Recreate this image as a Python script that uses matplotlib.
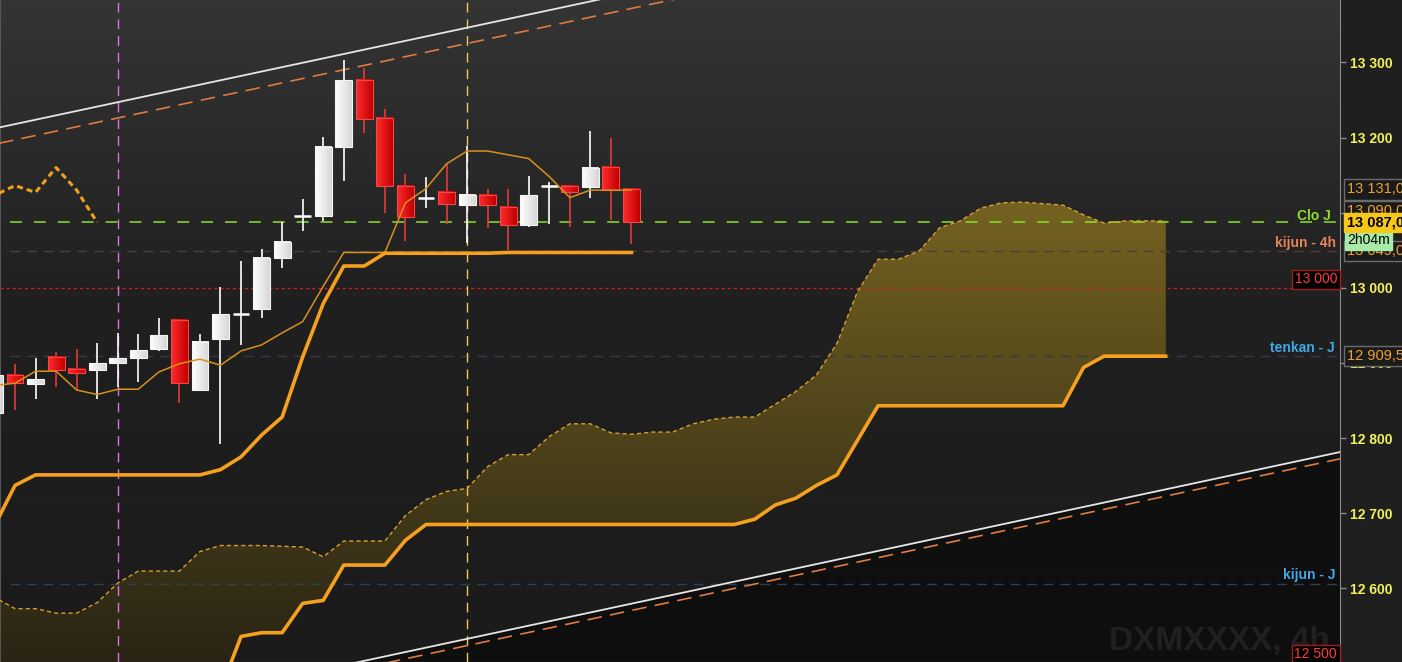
import numpy as np
import matplotlib
matplotlib.use("Agg")
import matplotlib.pyplot as plt
import matplotlib.transforms as mtransforms
from matplotlib.patches import Rectangle, PathPatch

plt.rcParams['font.family'] = ['Liberation Sans', 'DejaVu Sans']
plt.rcParams['lines.scale_dashes'] = False

# 4h candles, index -1 is the one cut by the left edge
bar_idx = np.arange(-1, 31)
opens  = [12834, 12884, 12872, 12908, 12892, 12891, 12900, 12907, 12919, 12957, 12864,
          12932, 12965, 12972, 13039, 13095, 13095, 13187, 13277, 13226, 13136, 13120,
          13128, 13110, 13124, 13108, 13084, 13136, 13136, 13134, 13161, 13131]
highs  = [12890, 12899, 12907, 12915, 12919, 12926, 12940, 12938, 12960, 12958, 12938,
          13001, 13036, 13052, 13087, 13118, 13201, 13303, 13292, 13238, 13152, 13147,
          13165, 13189, 13132, 13132, 13149, 13141, 13137, 13208, 13200, 13131]
lows   = [12830, 12837, 12852, 12868, 12864, 12852, 12868, 12874, 12916, 12847, 12862,
          12792, 12924, 12960, 13027, 13075, 13089, 13142, 13206, 13100, 13062, 13106,
          13085, 13060, 13080, 13050, 13081, 13085, 13081, 13120, 13090, 13058]
closes = [12884, 12873, 12878, 12890, 12886, 12900, 12906, 12917, 12937, 12873, 12928,
          12965, 12965, 13040, 13061, 13095, 13188, 13276, 13225, 13135, 13094, 13120,
          13111, 13124, 13110, 13084, 13123, 13136, 13127, 13160, 13130, 13087]

tenkan_4h = [12870, 12873, 12889, 12889, 12864, 12858, 12865, 12865, 12888, 12899, 12905,
             12897, 12916, 12924, 12940, 12955, 13002, 13047, 13047, 13047, 13113, 13132,
             13165, 13182, 13182, 13177, 13172, 13148, 13120, 13130, 13130, 13130]
kijun_4h = [12683, 12737, 12751, 12751, 12751, 12751, 12751, 12751, 12751, 12751, 12751,
            12758, 12775, 12804, 12828, 12908, 12979, 13029, 13029, 13046, 13046, 13046,
            13046, 13046, 13046, 13047, 13047, 13047, 13047, 13047, 13047, 13047]

# ichimoku cloud, projected 26 bars ahead
cloud_idx = np.arange(-1, 57)
senkou_a = [12588, 12573, 12573, 12567, 12567, 12581, 12607, 12623, 12623, 12623, 12649,
            12657, 12657, 12657, 12656, 12655, 12642, 12663, 12663, 12663, 12697, 12718,
            12729, 12733, 12762, 12778, 12778, 12802, 12819, 12819, 12807, 12805, 12808,
            12808, 12819, 12825, 12828, 12828, 12845, 12862, 12884, 12926, 12995, 13038,
            13038, 13049, 13080, 13089, 13106, 13113, 13114, 13112, 13110, 13097, 13086,
            13089, 13089, 13089]
senkou_b = [12440, 12440, 12440, 12440, 12440, 12440, 12440, 12440, 12440, 12440, 12440,
            12465, 12536, 12541, 12541, 12580, 12584, 12631, 12631, 12631, 12664, 12685,
            12685, 12685, 12685, 12685, 12685, 12685, 12685, 12685, 12685, 12685, 12685,
            12685, 12685, 12685, 12685, 12692, 12711, 12720, 12737, 12751, 12797, 12843,
            12843, 12843, 12843, 12843, 12843, 12843, 12843, 12843, 12843, 12894, 12909,
            12909, 12909, 12909]

# channel lines (bar index, price)
upper_x = [-1, 64.5]
upper_white = [13212, 13594]
upper_dash = [13191, 13573]
lower_x = [14, 64.5]
lower_white = [12486, 12781.5]
lower_dash = [12477, 12772.5]

clo_j = 13087
kijun_4h_lvl = 13049
round_lvl = 13000
tenkan_j = 12909.5
kijun_j = 12606
bottom_lvl = 12500

marker_bars = [5, 22]
price_ticks = [12600, 12700, 12800, 12900, 13000, 13100, 13200, 13300]


def fr(v, dec=2):
    s = f"{v:,.{dec}f}".replace(",", " ").replace(".", ",")
    return s


XMIN, XMAX = -0.73, 64.48
YMIN, YMAX = 12502, 13383

fig = plt.figure(figsize=(14.02, 6.62), dpi=100, facecolor='#1f1f1f')
ax = fig.add_axes([0, 0, 1340 / 1402, 1])
ax.set_facecolor('#1c1c1c')

# background gradient
t = np.linspace(0, 1, 256)
g = np.interp(t, [0, 0.45, 1], [0.205, 0.125, 0.105])
bg = np.dstack([g, g, g]).reshape(256, 1, 3)
ax.imshow(bg, extent=[XMIN, XMAX, YMIN, YMAX], aspect='auto', zorder=0, origin='upper')

# darker zone under the lower channel line
ax.fill_between(lower_x, lower_white, YMIN - 100, color='black', alpha=0.45, lw=0, zorder=0.5)

# cloud with vertical gradient
poly = ax.fill_between(cloud_idx, senkou_a, senkou_b, facecolor='none', edgecolor='none')
clip = PathPatch(poly.get_paths()[0], transform=ax.transData, fc='none', ec='none')
ax.add_patch(clip)
cimg = np.zeros((256, 1, 3))
cimg[:, 0, 0] = np.interp(t, [0, 1], [0.46, 0.16])
cimg[:, 0, 1] = np.interp(t, [0, 1], [0.39, 0.14])
cimg[:, 0, 2] = np.interp(t, [0, 1], [0.13, 0.08])
im = ax.imshow(cimg, extent=[-1, 56, YMIN, 13125], aspect='auto', zorder=1, origin='upper')
im.set_clip_path(clip)

# horizontal levels
x0 = -0.24
ax.hlines(kijun_4h_lvl, x0, XMAX, colors='#4d3e36', lw=1, linestyles=(0, (7, 5)), zorder=2)
ax.hlines(tenkan_j, x0, XMAX, colors='#2f3d4a', lw=1, linestyles=(0, (7, 5)), zorder=2)
ax.hlines(kijun_j, x0, XMAX, colors='#2f404e', lw=1, linestyles=(0, (7, 5)), zorder=2)
ax.hlines(round_lvl, XMIN, XMAX, colors='#c82020', lw=1, linestyles=(0, (2.2, 2.2)), zorder=2)
ax.hlines(clo_j, x0, XMAX, colors='#8ee023', lw=1.1, linestyles=(0, (8.6, 8.6)), zorder=2.5)

# vertical markers
ax.axvline(marker_bars[0], color='#e070e8', lw=1, ls=(0, (7, 5)), zorder=2)
ax.axvline(marker_bars[1], color='#f0c860', lw=1, ls=(0, (7, 5)), zorder=2)

# channel
ax.plot(upper_x, upper_white, color='#e6e6e6', lw=1.3, zorder=3)
ax.plot(upper_x, upper_dash, color='#e07a40', lw=1.2, ls=(0, (10.5, 6)), zorder=3)
ax.plot(lower_x, lower_white, color='#e6e6e6', lw=1.3, zorder=3)
ax.plot(lower_x, lower_dash, color='#e07a40', lw=1.2, ls=(0, (10.5, 6)), zorder=3)

# cloud edges
ax.plot(cloud_idx, senkou_a, color='#d9a030', lw=1, ls=(0, (3, 2.2)), zorder=3)
ax.plot(cloud_idx, senkou_b, color='#f5a01e', lw=2.6, zorder=3, solid_joinstyle='round')

# chikou: closes shifted 26 bars back
ax.plot(bar_idx - 26, closes, color='#f0a020', lw=2.2, ls=(0, (4.3, 2.9)), zorder=3)

# candles, bodies shaded left to right
up_grad = np.zeros((1, 32, 3))
up_grad[0, :, :] = np.linspace(1.0, 0.84, 32)[:, None]
dn_grad = np.zeros((1, 32, 3))
dn_grad[0, :, 0] = np.linspace(1.0, 0.76, 32)
dn_grad[0, :, 1] = np.linspace(0.17, 0.0, 32)
dn_grad[0, :, 2] = np.linspace(0.17, 0.0, 32)

w = 0.82
for i, o, h, l, c in zip(bar_idx, opens, highs, lows, closes):
    if c > o:
        ax.vlines(i, l, h, colors='#ffffff', lw=1.2, zorder=4)
        ax.imshow(up_grad, extent=[i - w / 2, i + w / 2, o, c], aspect='auto', zorder=5)
        ax.add_patch(Rectangle((i - w / 2, o), w, c - o, fc='none', ec='#f4f4f4', lw=0.8, zorder=5.1))
    elif c < o:
        ax.vlines(i, l, h, colors='#e23a3a', lw=1.2, zorder=4)
        ax.imshow(dn_grad, extent=[i - w / 2, i + w / 2, c, o], aspect='auto', zorder=5)
        ax.add_patch(Rectangle((i - w / 2, c), w, o - c, fc='none', ec='#f24848', lw=0.8, zorder=5.1))
    else:
        ax.vlines(i, l, h, colors='#ffffff', lw=1.2, zorder=4)
        ax.hlines(o, i - w / 2, i + w / 2, colors='#ffffff', lw=1.8, zorder=5)

ax.plot(bar_idx, tenkan_4h, color='#d8901e', lw=1.1, zorder=6)
ax.plot(bar_idx, kijun_4h, color='#f5a01e', lw=2.6, zorder=6, solid_joinstyle='round')

ax.set_xlim(XMIN, XMAX)
ax.set_ylim(YMIN, YMAX)

# right price scale
ax.yaxis.tick_right()
ax.set_yticks(price_ticks)
ax.set_yticklabels([fr(v, 0) for v in price_ticks])
ax.set_xticks([])
ax.tick_params(axis='y', colors='#8a8a8a', labelcolor='#f2f25c', length=4, width=1,
               pad=3, labelsize=10)
for lab in ax.get_yticklabels():
    lab.set_fontweight('bold')
ax.spines['top'].set_visible(False)
ax.spines['right'].set_color('#8a8a8a')
ax.spines['left'].set_color('#555555')
ax.spines['bottom'].set_color('#666666')

# level names inside the chart
tr_ad = mtransforms.blended_transform_factory(ax.transAxes, ax.transData)
ax.annotate('Clo J', xy=(1, clo_j), xycoords=tr_ad, xytext=(-6.5, 1.6), textcoords='offset points',
            ha='right', va='baseline', color='#8fdf2c', fontsize=10, weight='bold', zorder=8)
ax.annotate('kijun - 4h', xy=(1, kijun_4h_lvl), xycoords=tr_ad, xytext=(-3, 2.7), textcoords='offset points',
            ha='right', va='baseline', color='#e8845a', fontsize=10, weight='bold', zorder=8)
ax.annotate('tenkan - J', xy=(1, tenkan_j), xycoords=tr_ad, xytext=(-3.5, 2.5), textcoords='offset points',
            ha='right', va='baseline', color='#40a9e6', fontsize=10, weight='bold', zorder=8)
ax.annotate('kijun - J', xy=(1, kijun_j), xycoords=tr_ad, xytext=(-3, 3.2), textcoords='offset points',
            ha='right', va='baseline', color='#40a9e6', fontsize=10, weight='bold', zorder=8)

ax.text(0.9978, round_lvl + 2, fr(round_lvl, 0), transform=tr_ad, ha='right', va='bottom',
        color='#ff3c3c', fontsize=10, zorder=9,
        bbox=dict(boxstyle='square,pad=0.18', fc='black', ec='#a21c1c', lw=1))
ax.text(0.9978, 12512, fr(bottom_lvl, 0), transform=tr_ad, ha='right', va='center',
        color='#ff3c3c', fontsize=10, zorder=9, clip_on=False,
        bbox=dict(boxstyle='square,pad=0.18', fc='black', ec='#a21c1c', lw=1))

# watermark
ax.text(1330 / 1340, 12518, 'DXMXXXX, 4h', transform=tr_ad, ha='right', va='baseline',
        color='#202020', fontsize=24, weight='bold', zorder=0.8)

# boxes on the price scale
tr_fd = mtransforms.blended_transform_factory(fig.transFigure, ax.transData)
bx = 1347 / 1402
dark_box = dict(boxstyle='square,pad=0.22', fc='#1b1b1b', ec='#6c6c6c', lw=1)
ax.text(bx, 13102, fr(13090), transform=tr_fd, ha='left', va='center', color='#f0a030',
        fontsize=10.5, clip_on=False, zorder=10, bbox=dark_box)
ax.text(bx, 13131, fr(13131), transform=tr_fd, ha='left', va='center', color='#f0a030',
        fontsize=10.5, clip_on=False, zorder=10, bbox=dark_box)
ax.text(bx, kijun_4h_lvl, fr(kijun_4h_lvl), transform=tr_fd, ha='left', va='center', color='#f0a030',
        fontsize=10.5, clip_on=False, zorder=10, bbox=dark_box)
ax.text(bx, tenkan_j, fr(tenkan_j), transform=tr_fd, ha='left', va='center', color='#f0a030',
        fontsize=10.5, clip_on=False, zorder=10, bbox=dark_box)
ax.text(bx, 13063, '2h04m', transform=tr_fd, ha='left', va='center', color='black',
        fontsize=10, clip_on=False, zorder=11,
        bbox=dict(boxstyle='square,pad=0.18', fc='#a8eba8', ec='#a8eba8', lw=1))
ax.text(bx, clo_j, fr(clo_j), transform=tr_fd, ha='left', va='center', color='black',
        fontsize=10.5, weight='bold', clip_on=False, zorder=12,
        bbox=dict(boxstyle='square,pad=0.2', fc='#f7c81a', ec='#f7c81a', lw=1))

fig.savefig('out.png', dpi=100, facecolor=fig.get_facecolor())
